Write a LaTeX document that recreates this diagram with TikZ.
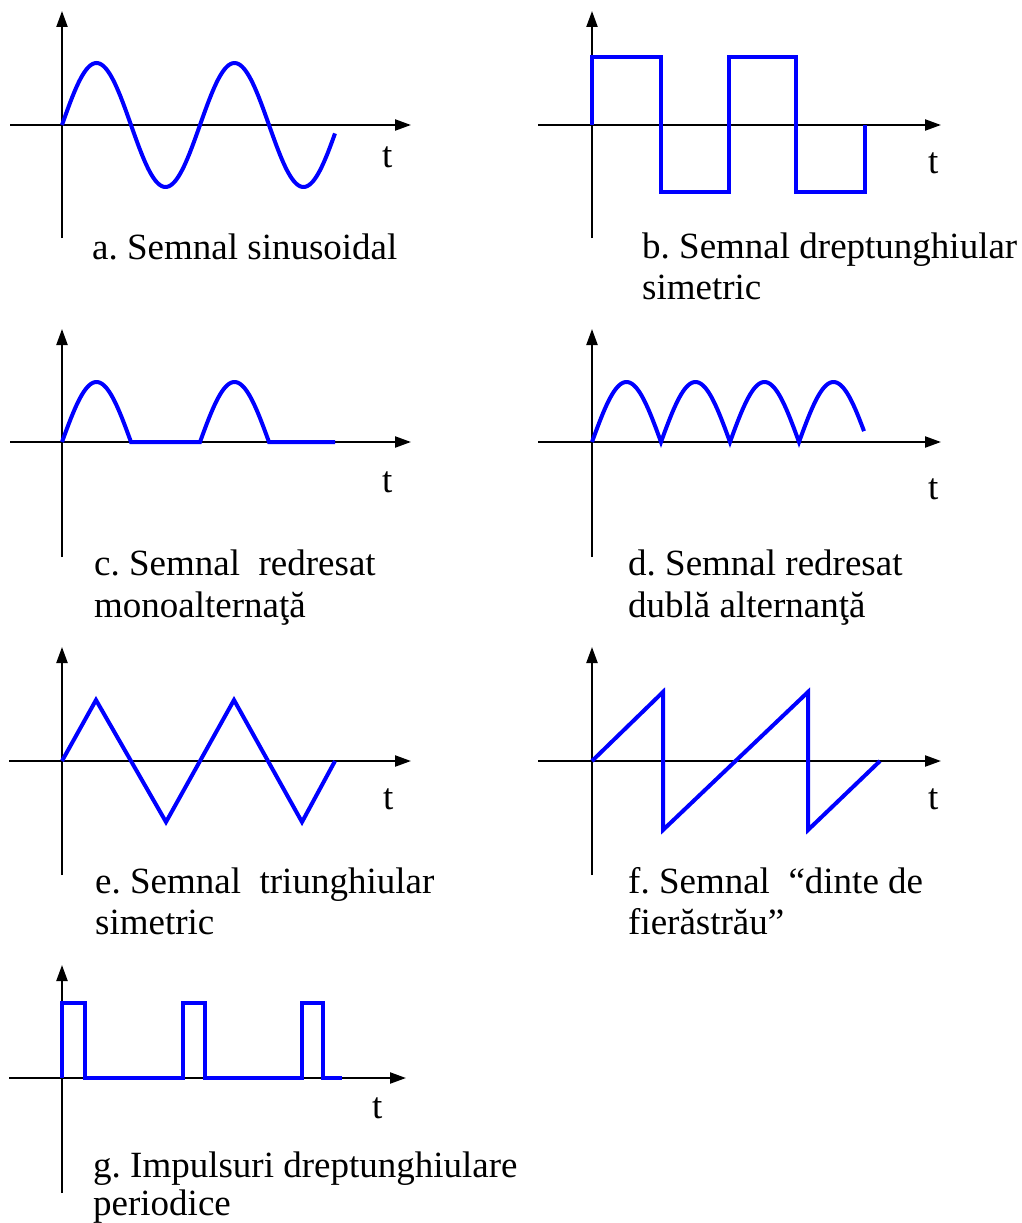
\documentclass[tikz,border=0pt]{standalone}
\usepackage{fontspec}
\setmainfont{Liberation Serif}
\usetikzlibrary{arrows.meta}
\frenchspacing

\begin{document}
\begin{tikzpicture}[x=1pt,y=-1pt,>={Triangle[length=16pt,width=11pt]},
  axis/.style={->,line width=2.2pt,black},
  sig/.style={line width=4pt,blue},
  lbl/.style={anchor=base west,inner sep=0pt,font={\fontsize{37}{41}\selectfont}}]
  \useasboundingbox (0,0) rectangle (1021,1223);

  % a. sinus
  \draw[axis] (62,238) -- (62,11);
  \draw[axis] (10,125) -- (411,125);
  \draw[sig] plot[domain=0:273,samples=160] ({62+\x},{125-62*sin(\x/138*360)});
  \node[lbl] (ta) at (382,167) {t};
  \node[lbl] (lblA) at (92,259) {a. Semnal sinusoidal};

  % b. dreptunghiular
  \draw[axis] (592,238) -- (592,11);
  \draw[axis] (538,125) -- (941,125);
  \draw[sig] (592,125) -- (592,57) -- (661,57) -- (661,192) -- (729,192) -- (729,57)
    -- (796,57) -- (796,192) -- (865,192) -- (865,125);
  \node[lbl] (tb) at (928,173) {t};
  \node[lbl] (lblB) at (642,258) {b. Semnal dreptunghiular};
  \node[lbl] (lblB2) at ([yshift=-41pt]lblB.base west) {simetric};

  % c. monoalternanta
  \draw[axis] (62,557) -- (62,329);
  \draw[axis] (10,442) -- (411,442);
  \draw[sig] plot[domain=0:273,samples=547] ({62+\x},{442-60*max(0,sin(\x/138*360))});
  \node[lbl] (tc) at (382,492) {t};
  \node[lbl] (lblC) at (94,575) {c. Semnal~ redresat};
  \node[lbl] (lblC2) at ([yshift=-42pt]lblC.base west) {monoalternaţă};

  % d. dubla alternanta
  \draw[axis] (592,557) -- (592,329);
  \draw[axis] (538,442) -- (941,442);
  \draw[sig] plot[domain=0:272,samples=545] ({592+\x},{442-60*abs(sin(\x/138*360))});
  \node[lbl] (td) at (928,499) {t};
  \node[lbl] (lblD) at (628,575) {d. Semnal redresat};
  \node[lbl] (lblD2) at ([yshift=-42pt]lblD.base west) {dublă alternanţă};

  % e. triunghiular
  \draw[axis] (62,875) -- (62,647);
  \draw[axis] (9,761) -- (411,761);
  \draw[sig] (62,761) -- (96,700) -- (166,822) -- (234,700) -- (302,822) -- (335,761);
  \node[lbl] (te) at (383,809) {t};
  \node[lbl] (lblE) at (95,893) {e. Semnal~ triunghiular};
  \node[lbl] (lblE2) at ([yshift=-41pt]lblE.base west) {simetric};

  % f. dinte de fierastrau
  \draw[axis] (592,875) -- (592,647);
  \draw[axis] (538,761) -- (941,761);
  \draw[sig] (592,761) -- (663,692) -- (663,830) -- (808,692) -- (808,830) -- (880,761);
  \node[lbl] (tf) at (928,809) {t};
  \node[lbl] (lblF) at (628,893) {f. Semnal~ “dinte de};
  \node[lbl] (lblF2) at ([yshift=-41pt]lblF.base west) {fierăstrău”};

  % g. impulsuri
  \draw[axis] (62,1193) -- (62,965);
  \draw[axis] (9,1078) -- (406,1078);
  \draw[sig] (62,1078) -- (62,1003) -- (85,1003) -- (85,1078) -- (183,1078) -- (183,1003)
    -- (205,1003) -- (205,1078) -- (302,1078) -- (302,1003) -- (323,1003) -- (323,1078)
    -- (342,1078);
  \node[lbl] (tg) at (372,1118) {t};
  \node[lbl] (lblG) at (93,1177) {g. Impulsuri dreptunghiulare};
  \node[lbl] (lblG2) at ([yshift=-38pt]lblG.base west) {periodice};
\end{tikzpicture}
\end{document}
